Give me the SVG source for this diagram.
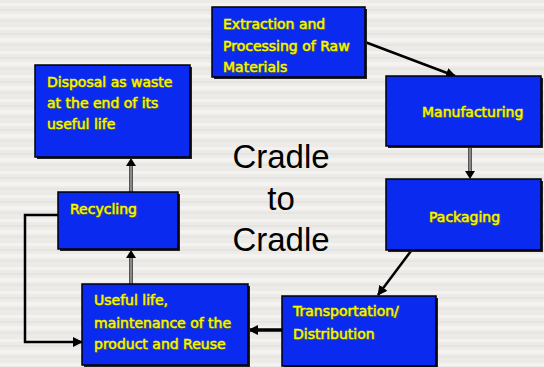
<svg xmlns="http://www.w3.org/2000/svg" width="544" height="367" viewBox="0 0 544 367">
<defs>
<pattern id="bg" width="544" height="24" patternUnits="userSpaceOnUse">
<rect width="544" height="24" fill="#EDEBE8"/>
<rect y="3" width="544" height="3" fill="#F3F2F0"/>
<rect y="9" width="544" height="2" fill="#E6E4E1"/>
<rect y="14" width="544" height="4" fill="#F4F3F1"/>
<rect y="20" width="544" height="2" fill="#E7E5E2"/>
</pattern>
<marker id="ah" viewBox="0 0 10 10" refX="9" refY="5" markerWidth="4" markerHeight="4" orient="auto" markerUnits="strokeWidth">
<path d="M0,0 L10,5 L0,10 z" fill="#000"/>
</marker>
<marker id="ahs" viewBox="0 0 10 10" refX="9" refY="5" markerWidth="3" markerHeight="3.5" orient="auto" markerUnits="strokeWidth">
<path d="M0,0 L10,5 L0,10 z" fill="#000"/>
</marker>
</defs>
<style>
.box{fill:#0A2BEF;stroke:#000;stroke-width:1.5}
.sh{fill:#222}
.t{font-family:"DejaVu Sans",sans-serif;font-size:14px;fill:#FFFF00;stroke:#F0F000;stroke-width:0.55}
.ts{font-family:"DejaVu Sans",sans-serif;font-size:14px;fill:#4a4a10;stroke:#4a4a10;stroke-width:0.5;opacity:0.8}
.big{font-family:"Liberation Sans",Arial,sans-serif;font-size:33px;fill:#000;text-anchor:middle}
.blk{fill:none;stroke:#000;stroke-width:2.5}
.gry{fill:none;stroke:#888;stroke-width:2}
.gryo{fill:none;stroke:#222;stroke-width:3.5}
</style>
<rect width="544" height="367" fill="url(#bg)"/>

<g id="connectors">
<line class="blk" x1="365" y1="42" x2="455" y2="76" marker-end="url(#ah)"/>
<line class="gryo" x1="470" y1="146" x2="470" y2="172"/>
<line class="gry" x1="470" y1="146" x2="470" y2="172"/>
<path d="M465,171 L475,171 L470,179 z" fill="#000"/>
<line class="blk" x1="411" y1="251" x2="378" y2="295" marker-end="url(#ah)"/>
<line x1="282" y1="330" x2="249" y2="330" fill="none" stroke="#000" stroke-width="3.5" marker-end="url(#ahs)"/>
<line class="gryo" x1="131" y1="284" x2="131" y2="256"/>
<line class="gry" x1="131" y1="284" x2="131" y2="256"/>
<path d="M126,258 L136,258 L131,250 z" fill="#000"/>
<line class="gryo" x1="131" y1="192" x2="131" y2="165"/>
<line class="gry" x1="131" y1="192" x2="131" y2="165"/>
<path d="M126,166 L136,166 L131,158 z" fill="#000"/>
<path class="blk" d="M58,215 L25,215 L25,342 L82,342" marker-end="url(#ah)"/>
</g>

<g id="extraction">
<rect class="sh" x="214" y="9" width="153" height="70"/>
<rect class="box" x="212" y="7" width="153" height="70"/>
<text class="ts" x="224" y="30">Extraction and</text>
<text class="ts" x="224" y="52">Processing of Raw</text>
<text class="ts" x="224" y="73">Materials</text>
<text class="t" x="223" y="29">Extraction and</text>
<text class="t" x="223" y="51">Processing of Raw</text>
<text class="t" x="223" y="72">Materials</text>
</g>

<g id="manufacturing">
<rect class="sh" x="388" y="78" width="155" height="70"/>
<rect class="box" x="386" y="76" width="155" height="70"/>
<text class="ts" x="423" y="118">Manufacturing</text>
<text class="t" x="422" y="117">Manufacturing</text>
</g>

<g id="packaging">
<rect class="sh" x="388" y="181" width="155" height="71"/>
<rect class="box" x="386" y="179" width="155" height="71"/>
<text class="ts" x="430" y="223">Packaging</text>
<text class="t" x="429" y="222">Packaging</text>
</g>

<g id="transportation">
<rect class="sh" x="284" y="298" width="154" height="70"/>
<rect class="box" x="282" y="296" width="154" height="70"/>
<text class="ts" x="294" y="317">Transportation/</text>
<text class="ts" x="294" y="340">Distribution</text>
<text class="t" x="293" y="316">Transportation/</text>
<text class="t" x="293" y="339">Distribution</text>
</g>

<g id="useful">
<rect class="sh" x="84" y="286" width="166" height="81"/>
<rect class="box" x="82" y="284" width="166" height="81"/>
<text class="ts" x="95" y="306">Useful life,</text>
<text class="ts" x="95" y="329">maintenance of the</text>
<text class="ts" x="95" y="350">product and Reuse</text>
<text class="t" x="94" y="305">Useful life,</text>
<text class="t" x="94" y="328">maintenance of the</text>
<text class="t" x="94" y="349">product and Reuse</text>
</g>

<g id="recycling">
<rect class="sh" x="60" y="194" width="120" height="57"/>
<rect class="box" x="58" y="192" width="120" height="57"/>
<text class="ts" x="71" y="215">Recycling</text>
<text class="t" x="70" y="214">Recycling</text>
</g>

<g id="disposal">
<rect class="sh" x="37" y="67" width="155" height="92"/>
<rect class="box" x="35" y="65" width="155" height="92"/>
<text class="ts" x="48" y="88">Disposal as waste</text>
<text class="ts" x="48" y="109">at the end of its</text>
<text class="ts" x="48" y="130">useful life</text>
<text class="t" x="47" y="87">Disposal as waste</text>
<text class="t" x="47" y="108">at the end of its</text>
<text class="t" x="47" y="129">useful life</text>
</g>

<g id="title">
<text class="big" x="281" y="168">Cradle</text>
<text class="big" x="281" y="210">to</text>
<text class="big" x="281" y="251">Cradle</text>
</g>
</svg>
